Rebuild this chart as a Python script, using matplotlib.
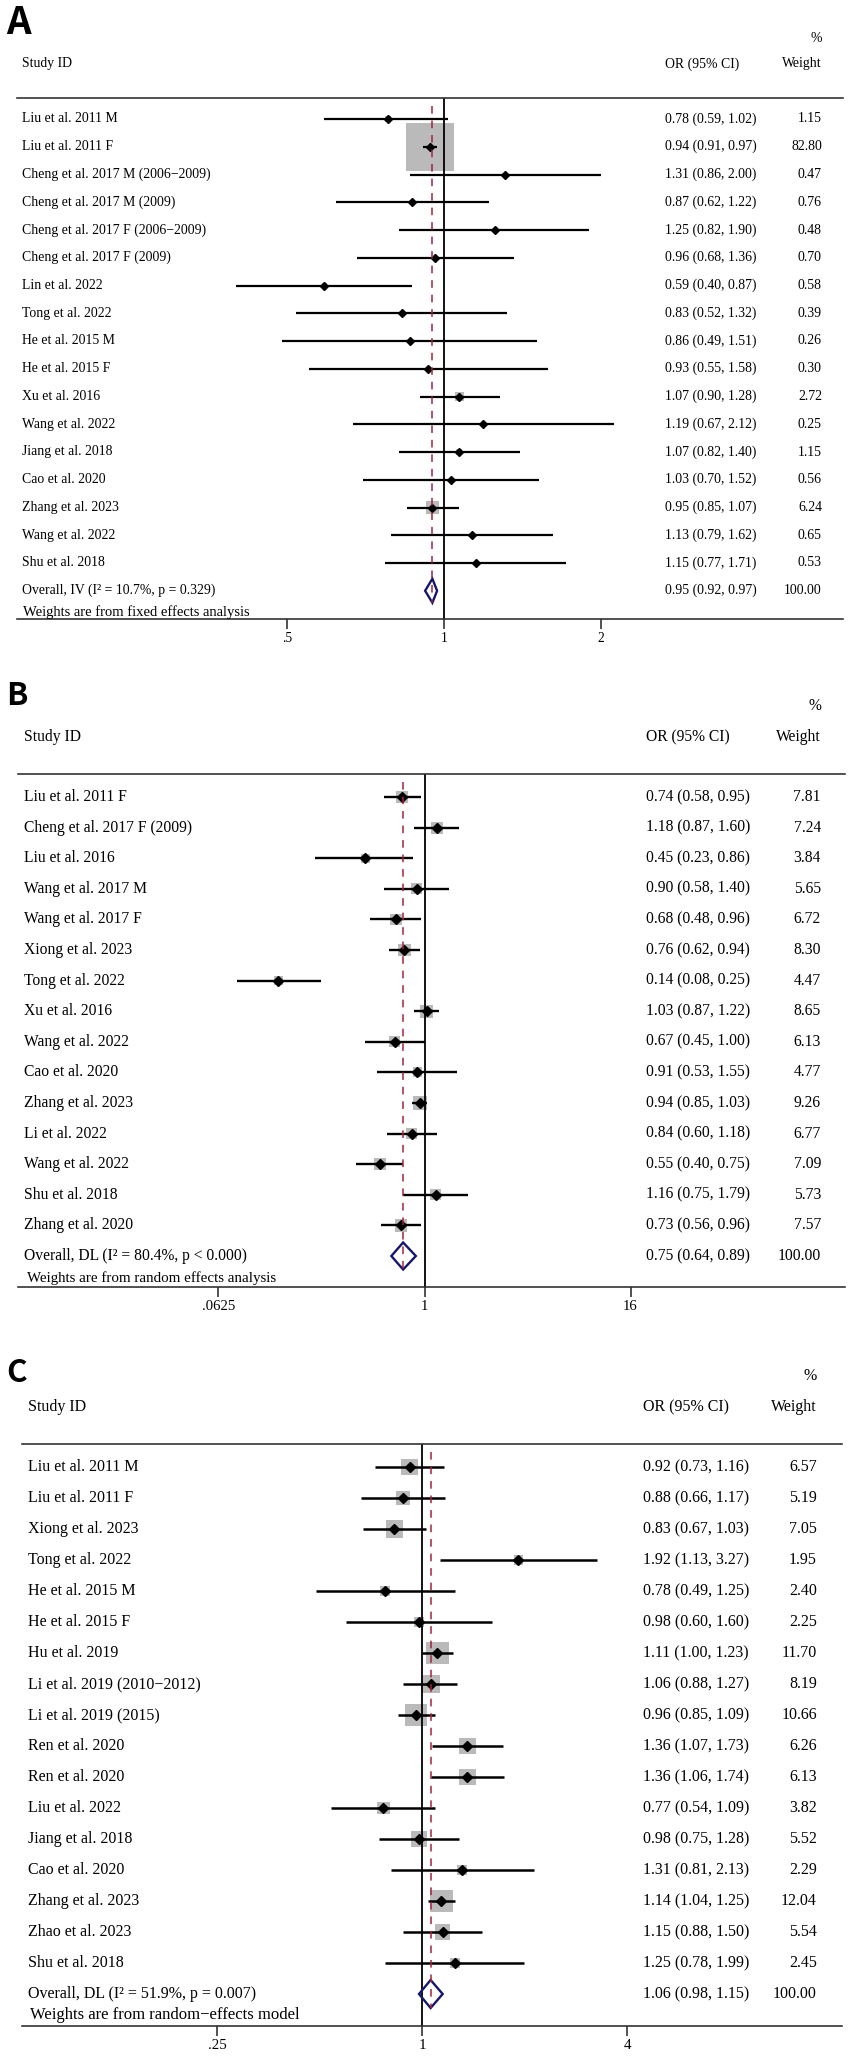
import numpy as np
import matplotlib
matplotlib.use("Agg")
import matplotlib.pyplot as plt
from matplotlib.patches import Polygon
from matplotlib.transforms import blended_transform_factory

# ---------------- data ----------------
a_studies = ["Liu et al. 2011 M", "Liu et al. 2011 F", "Cheng et al. 2017 M (2006\u22122009)",
             "Cheng et al. 2017 M (2009)", "Cheng et al. 2017 F (2006\u22122009)", "Cheng et al. 2017 F (2009)",
             "Lin et al. 2022", "Tong et al. 2022", "He et al. 2015 M", "He et al. 2015 F",
             "Xu et al. 2016", "Wang et al. 2022", "Jiang et al. 2018", "Cao et al. 2020",
             "Zhang et al. 2023", "Wang et al. 2022", "Shu et al. 2018"]
a_or = [0.78, 0.94, 1.31, 0.87, 1.25, 0.96, 0.59, 0.83, 0.86, 0.93, 1.07, 1.19, 1.07, 1.03, 0.95, 1.13, 1.15]
a_lo = [0.59, 0.91, 0.86, 0.62, 0.82, 0.68, 0.40, 0.52, 0.49, 0.55, 0.90, 0.67, 0.82, 0.70, 0.85, 0.79, 0.77]
a_hi = [1.02, 0.97, 2.00, 1.22, 1.90, 1.36, 0.87, 1.32, 1.51, 1.58, 1.28, 2.12, 1.40, 1.52, 1.07, 1.62, 1.71]
a_wt = [1.15, 82.80, 0.47, 0.76, 0.48, 0.70, 0.58, 0.39, 0.26, 0.30, 2.72, 0.25, 1.15, 0.56, 6.24, 0.65, 0.53]
a_overall_label = "Overall, IV (I\u00b2 = 10.7%, p = 0.329)"
a_overall = [0.95, 0.92, 0.97]
a_note = "Weights are from fixed effects analysis"
a_ticks = [0.5, 1, 2]
a_ticklabels = [".5", "1", "2"]

b_studies = ["Liu et al. 2011 F", "Cheng et al. 2017 F (2009)", "Liu et al. 2016", "Wang et al. 2017 M",
             "Wang et al. 2017 F", "Xiong et al. 2023", "Tong et al. 2022", "Xu et al. 2016",
             "Wang et al. 2022", "Cao et al. 2020", "Zhang et al. 2023", "Li et al. 2022",
             "Wang et al. 2022", "Shu et al. 2018", "Zhang et al. 2020"]
b_or = [0.74, 1.18, 0.45, 0.90, 0.68, 0.76, 0.14, 1.03, 0.67, 0.91, 0.94, 0.84, 0.55, 1.16, 0.73]
b_lo = [0.58, 0.87, 0.23, 0.58, 0.48, 0.62, 0.08, 0.87, 0.45, 0.53, 0.85, 0.60, 0.40, 0.75, 0.56]
b_hi = [0.95, 1.60, 0.86, 1.40, 0.96, 0.94, 0.25, 1.22, 1.00, 1.55, 1.03, 1.18, 0.75, 1.79, 0.96]
b_wt = [7.81, 7.24, 3.84, 5.65, 6.72, 8.30, 4.47, 8.65, 6.13, 4.77, 9.26, 6.77, 7.09, 5.73, 7.57]
b_overall_label = "Overall, DL (I\u00b2 = 80.4%, p < 0.000)"
b_overall = [0.75, 0.64, 0.89]
b_note = "Weights are from random effects analysis"
b_ticks = [0.0625, 1, 16]
b_ticklabels = [".0625", "1", "16"]

c_studies = ["Liu et al. 2011 M", "Liu et al. 2011 F", "Xiong et al. 2023", "Tong et al. 2022",
             "He et al. 2015 M", "He et al. 2015 F", "Hu et al. 2019", "Li et al. 2019 (2010\u22122012)",
             "Li et al. 2019 (2015)", "Ren et al. 2020", "Ren et al. 2020", "Liu et al. 2022",
             "Jiang et al. 2018", "Cao et al. 2020", "Zhang et al. 2023", "Zhao et al. 2023", "Shu et al. 2018"]
c_or = [0.92, 0.88, 0.83, 1.92, 0.78, 0.98, 1.11, 1.06, 0.96, 1.36, 1.36, 0.77, 0.98, 1.31, 1.14, 1.15, 1.25]
c_lo = [0.73, 0.66, 0.67, 1.13, 0.49, 0.60, 1.00, 0.88, 0.85, 1.07, 1.06, 0.54, 0.75, 0.81, 1.04, 0.88, 0.78]
c_hi = [1.16, 1.17, 1.03, 3.27, 1.25, 1.60, 1.23, 1.27, 1.09, 1.73, 1.74, 1.09, 1.28, 2.13, 1.25, 1.50, 1.99]
c_wt = [6.57, 5.19, 7.05, 1.95, 2.40, 2.25, 11.70, 8.19, 10.66, 6.26, 6.13, 3.82, 5.52, 2.29, 12.04, 5.54, 2.45]
c_overall_label = "Overall, DL (I\u00b2 = 51.9%, p = 0.007)"
c_overall = [1.06, 0.98, 1.15]
c_note = "Weights are from random\u2212effects model"
c_ticks = [0.25, 1, 4]
c_ticklabels = [".25", "1", "4"]

# ---------------- layout (pixels) ----------------
W, H, DPI = 851, 2060, 100
PT = 72.0 / DPI
SERIF = ["Liberation Serif", "DejaVu Serif"]
LETTER_FONT = ["Noto Sans CJK SC", "DejaVu Sans"]

fig = plt.figure(figsize=(W / DPI, H / DPI), dpi=DPI)
fig.patch.set_facecolor("white")

panels = [
    dict(letter="A", studies=a_studies, est=a_or, lo=a_lo, hi=a_hi, wt=a_wt,
         ov_label=a_overall_label, ov=a_overall, note=a_note, ticks=a_ticks, ticklabels=a_ticklabels,
         left=17, right=843, one=444, ppl=226.5, top=98, bottom=619, row1=119, sp=27.75,
         letter_xy=(6, 22), letter_px=28, pct_y=38, head_y=64, note_y=612,
         lab_x=22, note_x=23, or_x=665, wt_x=822, fs=13.7, note_fs=14.6, tick_fs=13.5, k=5.3, dh=24,
         ms=4.3, ci_lw=1.6),
    dict(letter="B", studies=b_studies, est=b_or, lo=b_lo, hi=b_hi, wt=b_wt,
         ov_label=b_overall_label, ov=b_overall, note=b_note, ticks=b_ticks, ticklabels=b_ticklabels,
         left=18, right=845, one=424.5, ppl=74.3, top=774, bottom=1287, row1=797, sp=30.6,
         letter_xy=(6, 696), letter_px=23, pct_y=706, head_y=737, note_y=1278,
         lab_x=24, note_x=27, or_x=646, wt_x=821, fs=15.6, note_fs=15.0, tick_fs=14.8, k=4.5, dh=27,
         ms=4.7, ci_lw=1.7),
    dict(letter="C", studies=c_studies, est=c_or, lo=c_lo, hi=c_hi, wt=c_wt,
         ov_label=c_overall_label, ov=c_overall, note=c_note, ticks=c_ticks, ticklabels=c_ticklabels,
         left=22, right=842, one=422, ppl=147.9, top=1444, bottom=2026, row1=1467, sp=31.0,
         letter_xy=(6, 1373), letter_px=23, pct_y=1376, head_y=1407, note_y=2015,
         lab_x=28, note_x=30, or_x=643, wt_x=817, fs=16.0, note_fs=16.6, tick_fs=15.0, k=6.5, dh=28,
         ms=5.0, ci_lw=1.8),
]

for p in panels:
    L, R, T, B = p["left"], p["right"], p["top"], p["bottom"]
    ax = fig.add_axes([L / W, 1 - B / H, (R - L) / W, (B - T) / H])
    ax.set_xscale("log")
    ax.set_xlim(np.exp((L - p["one"]) / p["ppl"]), np.exp((R - p["one"]) / p["ppl"]))
    sp, r1 = p["sp"], p["row1"]
    ax.set_ylim((B - r1) / sp, (T - r1) / sp)
    ax.set_facecolor("none")
    for s in ("left", "right"):
        ax.spines[s].set_visible(False)
    for s in ("top", "bottom"):
        ax.spines[s].set_color("#2b2b2b")
        ax.spines[s].set_linewidth(1.15)
    ax.set_yticks([])
    ax.xaxis.set_minor_locator(matplotlib.ticker.NullLocator())
    ax.set_xticks(p["ticks"])
    ax.set_xticklabels(p["ticklabels"], fontfamily=SERIF, fontsize=p["tick_fs"] * PT)
    ax.tick_params(axis="x", which="major", direction="out", length=7, width=1.15,
                   color="#2b2b2b", pad=2.5, top=False)

    n = len(p["studies"])
    y = np.arange(n)
    est = np.array(p["est"]); lo = np.array(p["lo"]); hi = np.array(p["hi"]); wt = np.array(p["wt"])

    # weight boxes
    side_pt = p["k"] * np.sqrt(wt) * PT
    ax.scatter(est, y, marker="s", s=side_pt ** 2, color="#bababa", linewidths=0, zorder=1)
    # null line
    ax.axvline(1, color="black", lw=1.3, zorder=2)
    # CIs and points
    ax.hlines(y, lo, hi, color="black", lw=p["ci_lw"], zorder=3)
    ax.plot(est, y, linestyle="none", marker="D", ms=p["ms"], color="black", zorder=4)
    # overall diamond
    oe, ol, oh = p["ov"]
    dh = p["dh"] / sp
    ax.add_patch(Polygon([(ol, n), (oe, n - dh / 2), (oh, n), (oe, n + dh / 2)], closed=True,
                         fill=False, edgecolor="#16166e", lw=1.7, zorder=3))
    # overall dashed line
    ax.plot([oe, oe], [(T - r1 + 8) / sp, n + dh / 2], color="#a3243a", lw=1.1,
            dashes=(5, 4.5), zorder=5)

    tr = blended_transform_factory(ax.transAxes, ax.transData)
    fx = lambda px: (px - L) / (R - L)
    fs = p["fs"] * PT
    for i, name in enumerate(p["studies"]):
        ax.text(fx(p["lab_x"]), i, name, transform=tr, ha="left", va="center",
                fontfamily=SERIF, fontsize=fs)
        ax.text(fx(p["or_x"]), i, f"{est[i]:.2f} ({lo[i]:.2f}, {hi[i]:.2f})", transform=tr,
                ha="left", va="center", fontfamily=SERIF, fontsize=fs)
        ax.text(fx(p["wt_x"]), i, f"{wt[i]:.2f}", transform=tr, ha="right", va="center",
                fontfamily=SERIF, fontsize=fs)
    ax.text(fx(p["lab_x"]), n, p["ov_label"], transform=tr, ha="left", va="center",
            fontfamily=SERIF, fontsize=fs)
    ax.text(fx(p["or_x"]), n, f"{oe:.2f} ({ol:.2f}, {oh:.2f})", transform=tr, ha="left",
            va="center", fontfamily=SERIF, fontsize=fs)
    ax.text(fx(p["wt_x"]), n, f"{100:.2f}", transform=tr, ha="right", va="center",
            fontfamily=SERIF, fontsize=fs)
    ax.text(fx(p["note_x"]), (p["note_y"] - r1) / sp, p["note"], transform=tr, ha="left",
            va="center", fontfamily=SERIF, fontsize=p["note_fs"] * PT)
    # headers
    hy = (p["head_y"] - r1) / sp
    ax.text(fx(p["lab_x"]), hy, "Study ID", transform=tr, ha="left", va="center",
            fontfamily=SERIF, fontsize=fs)
    ax.text(fx(p["or_x"]), hy, "OR (95% CI)", transform=tr, ha="left", va="center",
            fontfamily=SERIF, fontsize=fs)
    ax.text(fx(p["wt_x"]), hy, "Weight", transform=tr, ha="right", va="center",
            fontfamily=SERIF, fontsize=fs)
    ax.text(fx(p["wt_x"]), (p["pct_y"] - r1) / sp, "%", transform=tr, ha="right", va="center",
            fontfamily=SERIF, fontsize=fs)

    lx, ly = p["letter_xy"]
    fig.text(lx / W, 1 - ly / H, p["letter"], ha="left", va="center", fontfamily=LETTER_FONT,
             fontweight="bold", fontsize=p["letter_px"] / 0.73 * PT)

fig.savefig("out.png", dpi=DPI, facecolor="white")
